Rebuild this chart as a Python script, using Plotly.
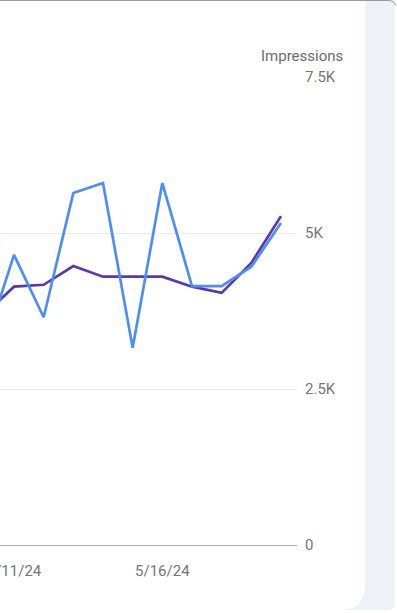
import plotly.graph_objects as go

# ---- data ----
dates = ["2024-04-04", "2024-04-11", "2024-04-18", "2024-04-25", "2024-05-02",
         "2024-05-09", "2024-05-16", "2024-05-23", "2024-05-30", "2024-06-06",
         "2024-06-13"]
impressions_a = [3170, 4650, 3650, 5640, 5800, 3160, 5800, 4150, 4150, 4460, 5160]
impressions_b = [3690, 4140, 4170, 4470, 4300, 4300, 4300, 4140, 4040, 4520, 5270]
x_tick_vals = ["2024-04-11", "2024-05-16"]
x_tick_text = ["4/11/24", "5/16/24"]
y_tick_vals = [0, 2500, 5000, 7500]
y_tick_text = ["0", "2.5K", "5K", "7.5K"]
axis_title = "Impressions"

# ---- layout geometry (pixels) ----
FIG_W, FIG_H = 397, 613
M_L, M_R, M_T, M_B = 0, 100, 77, 68
PW = FIG_W - M_L - M_R
PH = FIG_H - M_T - M_B


def px(xp):
    return (xp - M_L) / PW


def py(yp):
    return (FIG_H - M_B - yp) / PH


def path(points):
    out = []
    for cmd, *coords in points:
        parts = []
        for i in range(0, len(coords), 2):
            parts.append(f"{px(coords[i]):.5f},{py(coords[i + 1]):.5f}")
        out.append(cmd + " " + " ".join(parts))
    return " ".join(out)


fig = go.Figure()
fig.add_trace(go.Scatter(x=dates, y=impressions_b, mode="lines",
                         line=dict(color="#5b36ad", width=2.7), hoverinfo="skip"))
fig.add_trace(go.Scatter(x=dates, y=impressions_a, mode="lines",
                         line=dict(color="#4d8df6", width=2.7), hoverinfo="skip"))

shapes = []
# gray-blue side panel with rounded bottom-right corner
shapes.append(dict(
    type="path", xref="paper", yref="paper", layer="below",
    fillcolor="#eef2f8", line=dict(width=0),
    path=path([("M", 300, 0), ("L", 395, 0), ("L", 395, 603),
               ("Q", 395, 610, 388, 610), ("L", 300, 610), ("Z",)]),
))
# white card with rounded bottom-right corner
shapes.append(dict(
    type="path", xref="paper", yref="paper", layer="below",
    fillcolor="#ffffff", line=dict(width=0),
    path=path([("M", -5, 0), ("L", 365, 0), ("L", 365, 585),
               ("Q", 365, 610, 340, 610), ("L", -5, 610), ("Z",)]),
))
# thin outer border at top
shapes.append(dict(
    type="path", xref="paper", yref="paper", layer="above",
    line=dict(color="#9a9a9a", width=1),
    path=path([("M", -2, 0.5), ("L", 388, 0.5), ("Q", 394, 0.5, 395.5, 5)]),
))

TICK_FONT = dict(size=15, color="#757575")

fig.update_layout(
    width=FIG_W, height=FIG_H,
    margin=dict(l=M_L, r=M_R, t=M_T, b=M_B, pad=0),
    paper_bgcolor="#ffffff",
    plot_bgcolor="rgba(0,0,0,0)",
    showlegend=False,
    font=dict(family="Roboto, Arial, sans-serif", size=15, color="#757575"),
    shapes=shapes,
    xaxis=dict(
        type="date",
        range=["2024-04-07 16:45", "2024-06-16 18:40"],
        tickmode="array", tickvals=x_tick_vals, ticktext=x_tick_text,
        showgrid=False, zeroline=False, showline=False, automargin=False,
        ticks="", ticklabelstandoff=15, ticklabeloverflow="allow",
        tickfont=TICK_FONT,
    ),
    yaxis=dict(
        side="right",
        range=[0, 7500],
        tickmode="array", tickvals=y_tick_vals, ticktext=y_tick_text,
        showgrid=True, gridcolor="#ebebeb", gridwidth=1,
        zeroline=True, zerolinecolor="#a8a8a8", zerolinewidth=1,
        showline=False, ticks="", ticklabelstandoff=7, automargin=False,
        ticklabeloverflow="allow",
        tickfont=TICK_FONT,
    ),
    annotations=[dict(
        text=axis_title, xref="paper", yref="paper",
        x=px(345), y=py(56), xanchor="right", yanchor="middle",
        showarrow=False, font=dict(size=15, color="#6b6b6b"),
    )],
)

fig.write_html("out.html", config={"displayModeBar": False})

# remove the browser's default body margin so the figure sits at (0, 0)
with open("out.html", "r", encoding="utf-8") as f:
    html = f.read()
html = html.replace("<head>", "<head><style>html,body{margin:0;padding:0;}</style>", 1)
with open("out.html", "w", encoding="utf-8") as f:
    f.write(html)
